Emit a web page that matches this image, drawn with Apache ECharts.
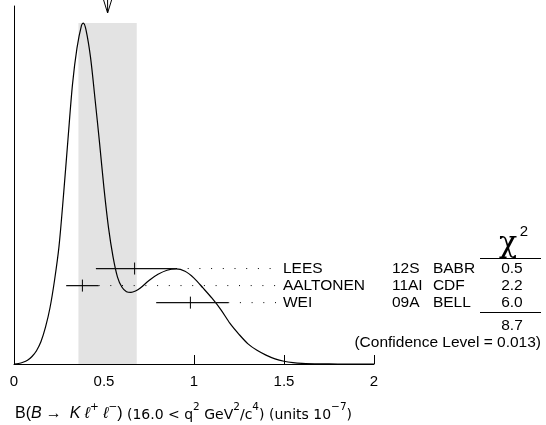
<!DOCTYPE html>
<html><head><meta charset="utf-8">
<script src="https://cdn.jsdelivr.net/npm/echarts@6/dist/echarts.min.js"></script>
<style>html,body{margin:0;padding:0;background:#fff}#c{width:546px;height:425px}</style>
</head><body><div id="c"></div>
<script>
// ---------- data ----------
const xTicks = [0, 0.5, 1, 1.5, 2];
const authors = ['LEES', 'AALTONEN', 'WEI'];
const codes = ['12S', '11AI', '09A'];
const experiments = ['BABR', 'CDF', 'BELL'];
const centralValues = [0.67, 0.38, 0.98];
const errMinus = [0.215, 0.09, 0.19];
const errPlus = [0.23, 0.09, 0.21];
const chi2 = ['0.5', '2.2', '6.0'];
const chi2Total = '8.7';
const confidenceLevel = '0.013';
const average = 0.52;
const averageError = 0.162;
const ideogramX = [0, 0.025, 0.05, 0.075, 0.1, 0.125, 0.15, 0.175, 0.2, 0.225, 0.25, 0.275, 0.3, 0.325, 0.35, 0.375, 0.385, 0.4, 0.425, 0.45, 0.475, 0.5, 0.525, 0.55, 0.575, 0.6, 0.625, 0.65, 0.675, 0.7, 0.75, 0.8, 0.85, 0.9, 0.95, 1.0, 1.05, 1.1, 1.15, 1.2, 1.25, 1.3, 1.35, 1.4, 1.45, 1.5, 1.55, 1.6, 1.7, 1.8, 1.9, 2.0];
const ideogramY = [0, 0.15, 0.5, 1.1, 2.2, 3.9, 6.6, 10.8, 16.5, 24.5, 34.5, 49.5, 66, 82, 92.7, 99.3, 100, 98, 90, 77.8, 65, 51.5, 40, 31.5, 25.5, 22.5, 21.2, 21.0, 21.4, 22.2, 24.5, 26.3, 27.5, 27.9, 27.2, 25.2, 22.3, 19.3, 15.9, 11.9, 8.7, 5.9, 4.0, 2.6, 1.5, 0.8, 0.4, 0.2, 0.05, 0, 0, 0];

// ---------- layout ----------
const FONT = '"Liberation Sans", Arial, Helvetica, sans-serif';
const yMax = 105;
const rowTop = 28, rowStep = 5;
const labelStart = 1.494;

const chart = echarts.init(document.getElementById('c'), null, {renderer: 'canvas'});

const rowData = authors.map((a, i) => [centralValues[i], centralValues[i] - errMinus[i], centralValues[i] + errPlus[i], rowTop - rowStep * i, i]);

const option = {
  animation: false,
  backgroundColor: '#fff',
  grid: {left: 14, right: 172, top: 6, bottom: 61, containLabel: false},
  xAxis: {
    type: 'value', min: 0, max: 2, interval: 0.5,
    axisLine: {show: true, lineStyle: {color: '#000', width: 1}},
    axisTick: {show: true, inside: true, length: 9, lineStyle: {color: '#000', width: 1}},
    axisLabel: {color: '#000', fontFamily: FONT, fontSize: 15, margin: 10,
      formatter: v => xTicks.includes(v) ? String(v) : ''},
    splitLine: {show: false}
  },
  yAxis: {
    type: 'value', min: 0, max: yMax,
    axisLine: {show: true, lineStyle: {color: '#000', width: 1}},
    axisTick: {show: false}, axisLabel: {show: false}, splitLine: {show: false}
  },
  series: [
    {
      type: 'custom', z: 1, silent: true,
      data: [[average - averageError, average + averageError, 100]],
      encode: {x: [0, 1], y: 2},
      renderItem: (params, api) => {
        const a = api.coord([api.value(0), api.value(2)]);
        const b = api.coord([api.value(1), 0]);
        return {type: 'rect', shape: {x: a[0], y: a[1], width: b[0] - a[0], height: b[1] - a[1]}, style: {fill: '#e3e3e3'}};
      }
    },
    {
      type: 'line', z: 3, silent: true, symbol: 'none', smooth: 0.3,
      data: ideogramX.map((x, i) => [x, ideogramY[i]]),
      lineStyle: {color: '#000', width: 1.2}
    },
    {
      type: 'custom', z: 4, silent: true, clip: false,
      data: rowData,
      encode: {x: [0, 1, 2], y: 3},
      renderItem: (params, api) => {
        const y = api.value(3);
        const c = api.coord([api.value(0), y]);
        const lo = api.coord([api.value(1), y]);
        const hi = api.coord([api.value(2), y]);
        const lab = api.coord([labelStart, y]);
        const i = api.value(4);
        const ts = {font: '15.5px ' + FONT, fill: '#000', textVerticalAlign: 'middle'};
        return {type: 'group', children: [
          {type: 'line', shape: {x1: lo[0], y1: lo[1], x2: hi[0], y2: hi[1]}, style: {stroke: '#111', lineWidth: 1.2}},
          {type: 'line', shape: {x1: c[0], y1: c[1] - 6, x2: c[0], y2: c[1] + 6}, style: {stroke: '#000', lineWidth: 1}},
          {type: 'line', shape: {x1: hi[0], y1: hi[1], x2: lab[0] - 5, y2: lab[1]}, style: {stroke: '#000', lineWidth: 1, lineDash: [1, 10.7]}},
          {type: 'text', style: Object.assign({text: authors[i], x: lab[0], y: lab[1], textAlign: 'left'}, ts)},
          {type: 'text', style: Object.assign({text: codes[i], x: lab[0] + 109, y: lab[1], textAlign: 'left'}, ts)},
          {type: 'text', style: Object.assign({text: experiments[i], x: lab[0] + 150, y: lab[1], textAlign: 'left'}, ts)},
          {type: 'text', style: Object.assign({text: chi2[i], x: lab[0] + 229, y: lab[1], textAlign: 'center'}, ts)}
        ]};
      }
    },
    {
      type: 'custom', z: 5, silent: true, clip: false,
      data: [[average, yMax]],
      encode: {x: 0, y: 1},
      renderItem: (params, api) => {
        const p = api.coord([api.value(0), api.value(1)]);
        const t = p[1] - 6, b = p[1] + 7;
        return {type: 'group', children: [
          {type: 'line', shape: {x1: p[0], y1: t, x2: p[0], y2: b}, style: {stroke: '#000', lineWidth: 1}},
          {type: 'line', shape: {x1: p[0] - 4, y1: t, x2: p[0], y2: b}, style: {stroke: '#000', lineWidth: 1}},
          {type: 'line', shape: {x1: p[0] + 4, y1: t, x2: p[0], y2: b}, style: {stroke: '#000', lineWidth: 1}}
        ]};
      }
    }
  ],
  graphic: [
    {type: 'text', x: 508, y: 244, style: {text: 'χ', font: '30px "DejaVu Serif", "Liberation Serif", serif', fill: '#000', textAlign: 'center', textVerticalAlign: 'middle'}},
    {type: 'text', x: 524, y: 232, style: {text: '2', font: '15px ' + FONT, fill: '#000', textAlign: 'center', textVerticalAlign: 'middle'}},
    {type: 'line', shape: {x1: 480, y1: 258.5, x2: 541, y2: 258.5}, style: {stroke: '#000', lineWidth: 1}},
    {type: 'line', shape: {x1: 480, y1: 312.5, x2: 541, y2: 312.5}, style: {stroke: '#000', lineWidth: 1}},
    {type: 'text', x: 512, y: 326, style: {text: chi2Total, font: '15.5px ' + FONT, fill: '#000', textAlign: 'center', textVerticalAlign: 'middle'}},
    {type: 'text', x: 541, y: 343, style: {text: '(Confidence Level = ' + confidenceLevel + ')', font: '15.5px ' + FONT, fill: '#000', textAlign: 'right', textVerticalAlign: 'middle'}},
    {type: 'text', left: 15, top: 402, style: {
      text: '{n|B(}{i|B}{a| →  }{i|K}{n| }{i|ℓ}{s|+}{n| }{i|ℓ}{s|−}{n|)}{m| (16.0 < q}{s|2}{m| GeV}{s|2}{m|/c}{s|4}{m|) (units 10}{s|−7}{m|)}',
      rich: {
        n: {font: '16px ' + FONT, fill: '#000', verticalAlign: 'bottom', lineHeight: 20},
        a: {font: '16px "Liberation Serif", serif', fill: '#000', verticalAlign: 'bottom', lineHeight: 20},
        i: {font: 'italic 16px ' + FONT, fill: '#000', verticalAlign: 'bottom', lineHeight: 20},
        m: {font: '14px "DejaVu Sans", sans-serif', fill: '#000', verticalAlign: 'bottom', lineHeight: 20},
        s: {font: '10.5px "DejaVu Sans", sans-serif', fill: '#000', verticalAlign: 'top', lineHeight: 20}
      }
    }}
  ]
};
chart.setOption(option);
</script>
</body></html>
